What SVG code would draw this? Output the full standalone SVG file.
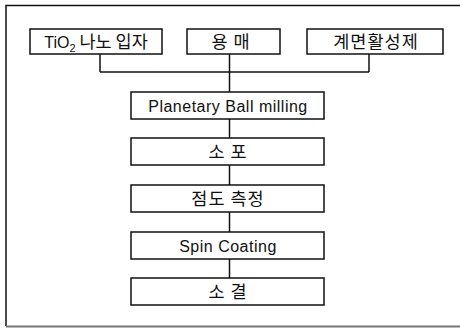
<svg xmlns="http://www.w3.org/2000/svg" width="460" height="328" viewBox="0 0 460 328">
<style>
.box{fill:#fff;stroke:#111;stroke-width:1.5}
.ln{fill:none;stroke:#111;stroke-width:1.5}
.lat{font-family:"Liberation Sans",Arial,sans-serif;font-size:16px;fill:#111;text-anchor:middle;letter-spacing:0.5px}
.kr{font-family:"Noto Sans CJK KR","Liberation Sans",sans-serif;font-size:17.5px;fill:#111;text-anchor:middle}
</style>
<rect width="460" height="328" fill="#fff"/>
<g id="frame">
<polyline class="ln" points="460,5.5 6,5.5 6,326"/>
<line x1="6" y1="326.5" x2="460" y2="326.5" stroke="#777" stroke-width="2"/>
</g>
<g id="connectors">
<line class="ln" x1="100" y1="54" x2="100" y2="72"/>
<line class="ln" x1="369" y1="54" x2="369" y2="72"/>
<line class="ln" x1="100" y1="72" x2="369" y2="72"/>
<line class="ln" x1="229.5" y1="54" x2="229.5" y2="278"/>
</g>
<g id="n-tio2">
<rect class="box" x="30" y="29" width="132" height="25"/>
<text x="96" y="48" class="kr"><tspan style="font-family:'Liberation Sans',sans-serif;font-size:16px">TiO</tspan><tspan style="font-family:'Liberation Sans',sans-serif;font-size:11px" dy="4">2</tspan><tspan dy="-4"> 나노 입자</tspan></text>
</g>
<g id="n-solvent">
<rect class="box" x="187" y="29" width="93" height="25"/>
<text x="231" y="48" class="kr" letter-spacing="1">용 매</text>
</g>
<g id="n-surfactant">
<rect class="box" x="307" y="29" width="136" height="25"/>
<text x="376" y="48" class="kr" letter-spacing="1">계면활성제</text>
</g>
<g id="n-milling">
<rect class="box" x="131" y="92" width="193" height="27"/>
<text x="228" y="111.5" class="lat">Planetary Ball milling</text>
</g>
<g id="n-defoam">
<rect class="box" x="131" y="138" width="193" height="27"/>
<text x="228" y="158" class="kr" letter-spacing="1">소 포</text>
</g>
<g id="n-viscosity">
<rect class="box" x="131" y="185" width="193" height="27"/>
<text x="228" y="205" class="kr" letter-spacing="1">점도 측정</text>
</g>
<g id="n-spin">
<rect class="box" x="131" y="232" width="193" height="27"/>
<text x="228" y="251.5" class="lat">Spin Coating</text>
</g>
<g id="n-sinter">
<rect class="box" x="131" y="278" width="193" height="27"/>
<text x="228" y="298" class="kr" letter-spacing="1">소 결</text>
</g>
</svg>
